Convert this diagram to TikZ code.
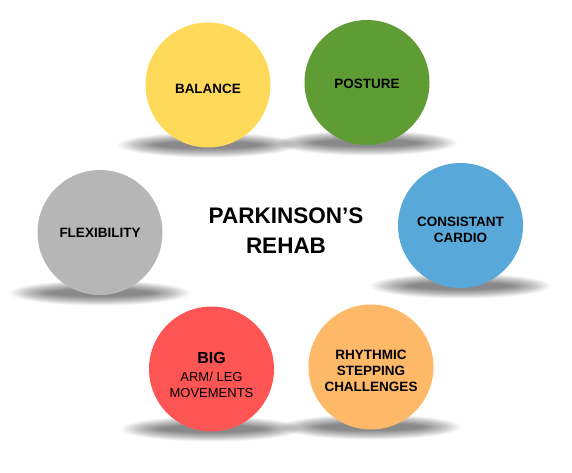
\documentclass[tikz,border=0pt]{standalone}
\usepackage{fontspec}
\setmainfont{Liberation Sans}
\definecolor{cyellow}{RGB}{255,218,90}
\definecolor{cgreen}{RGB}{96,156,52}
\definecolor{cblue}{RGB}{88,169,218}
\definecolor{cgray}{RGB}{182,182,182}
\definecolor{cred}{RGB}{253,84,84}
\definecolor{corange}{RGB}{253,184,104}
\tikzset{
  bubble/.style={circle, minimum size=125pt, inner sep=0pt},
  blabel/.style={align=center, text=black, inner sep=0pt, font=\fontsize{13.5}{16.5}\selectfont\bfseries},
  title/.style={align=center, inner sep=0pt, font=\fontsize{22.5}{30}\selectfont\bfseries},
}
\newcommand{\shadowat}[2]{%
  \foreach \k in {1,...,28}{%
    \fill[black, opacity=0.02] (#1,#2) ellipse ({92-1.5*\k} and {13-0.35*\k});
  }%
}
\begin{document}
\begin{tikzpicture}[x=1pt,y=-1pt]
\useasboundingbox (0,0) rectangle (572,473);
\fill[white] (0,0) rectangle (572,473);
% shadows
\shadowat{208}{145}
\shadowat{367}{143}
\shadowat{100}{293}
\shadowat{460.5}{286}
\shadowat{211.5}{429}
\shadowat{371}{427}
% circles
\node[bubble, fill=cyellow] (balance) at (208,85) {};
\node[bubble, fill=cgreen] (posture) at (367,82.5) {};
\node[bubble, fill=cgray] (flex) at (100,232.5) {};
\node[bubble, fill=cblue] (cardio) at (460.5,225.5) {};
\node[bubble, fill=cred] (big) at (211.5,369) {};
\node[bubble, fill=corange] (rhythm) at (371,367) {};
% labels
\node[blabel, anchor=base] (lbalance) at ([yshift=-9pt]balance.center) {BALANCE};
\node[blabel, anchor=base] (lposture) at ([yshift=-6.5pt]posture.center) {POSTURE};
\node[blabel, anchor=base] (lflex) at ([yshift=-4.5pt]flex.center) {FLEXIBILITY};
\node[blabel, anchor=base] (lcardio) at ([yshift=-0.5pt]cardio.center) {CONSISTANT};
\node[blabel, anchor=base] (lcardio2) at ([yshift=-17pt]cardio.center) {CARDIO};
\node[blabel, anchor=base, font=\fontsize{16}{18}\selectfont\bfseries] (lbig) at ([yshift=6pt]big.center) {BIG};
\node[blabel, anchor=base, font=\fontsize{13}{16}\selectfont] (lbig2) at ([yshift=-12pt]big.center) {ARM/ LEG};
\node[blabel, anchor=base, font=\fontsize{13}{16}\selectfont] (lbig3) at ([yshift=-28pt]big.center) {MOVEMENTS};
\node[blabel, anchor=base] (lrhythm) at ([yshift=8pt]rhythm.center) {RHYTHMIC};
\node[blabel, anchor=base] (lrhythm2) at ([yshift=-8pt]rhythm.center) {STEPPING};
\node[blabel, anchor=base] (lrhythm3) at ([yshift=-24pt]rhythm.center) {CHALLENGES};
\node[title, anchor=base] (center) at (286,223) {PARKINSON’S};
\node[title, anchor=base] (center2) at (286,253) {REHAB};
\end{tikzpicture}
\end{document}
